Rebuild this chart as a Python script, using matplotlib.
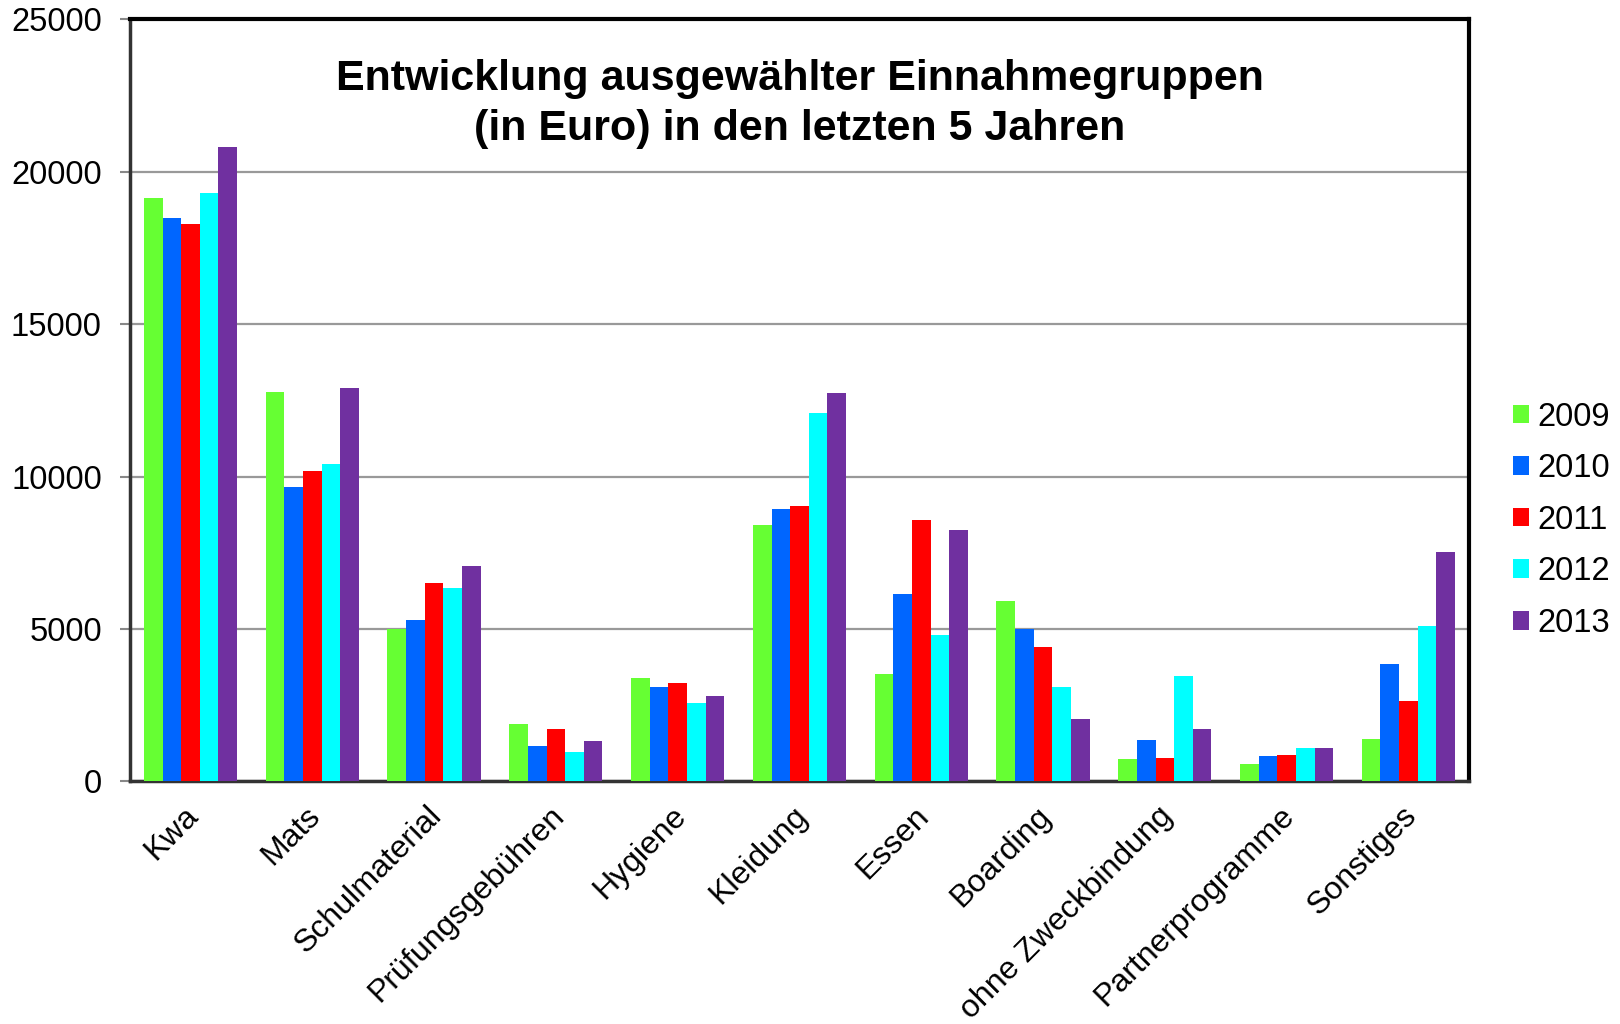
import matplotlib
matplotlib.use("Agg")
import matplotlib.pyplot as plt
import matplotlib.transforms as mtransforms
import numpy as np

categories = ["Kwa", "Mats", "Schulmaterial", "Prüfungsgebühren", "Hygiene", "Kleidung",
              "Essen", "Boarding", "ohne Zweckbindung", "Partnerprogramme", "Sonstiges"]
years = ["2009", "2010", "2011", "2012", "2013"]
v2009 = [19150, 12760, 4990, 1880, 3400, 8400, 3510, 5915, 720, 580, 1390]
v2010 = [18500, 9650, 5300, 1150, 3085, 8935, 6160, 4990, 1345, 845, 3850]
v2011 = [18280, 10190, 6505, 1730, 3215, 9020, 8585, 4405, 780, 875, 2625]
v2012 = [19290, 10410, 6355, 950, 2580, 12095, 4800, 3085, 3470, 1095, 5085]
v2013 = [20825, 12915, 7075, 1310, 2810, 12755, 8260, 2055, 1705, 1095, 7515]
series = [v2009, v2010, v2011, v2012, v2013]
colors = ["#66FF33", "#0066FF", "#FF0000", "#00FFFF", "#7030A0"]
yticks = [0, 5000, 10000, 15000, 20000, 25000]

plt.rcParams['font.family'] = ['Liberation Sans', 'DejaVu Sans']

fig = plt.figure(figsize=(16.2, 10.24), dpi=100)
ax = fig.add_axes([0.080, 0.237, 0.827, 0.744])

x = np.arange(len(categories))
w = 0.153
for i, (vals, c, yr) in enumerate(zip(series, colors, years)):
    ax.bar(x + (i - 2) * w, vals, width=w, color=c, label=yr, zorder=3)

ax.set_xlim(-0.5, len(categories) - 0.5)
ax.set_ylim(0, 25000)
ax.set_yticks(yticks)
ax.set_yticklabels([str(t) for t in yticks], fontsize=23.5)
ax.yaxis.grid(True, color="#999999", linewidth=1.6, zorder=0)
ax.set_axisbelow(True)
ax.tick_params(axis='y', length=7, width=1.5, color="#888888", pad=13)
ax.tick_params(axis='x', length=0, pad=14)
ax.set_xticks(x)
ax.set_xticklabels(categories, rotation=45, ha='right', va='top',
                   rotation_mode='anchor', fontsize=23)
offset = mtransforms.ScaledTranslation(-0.07, 0, fig.dpi_scale_trans)
for lbl in ax.get_xticklabels():
    lbl.set_transform(lbl.get_transform() + offset)

for s in ['top', 'right']:
    ax.spines[s].set_linewidth(3)
    ax.spines[s].set_color("black")
for s in ['left', 'bottom']:
    ax.spines[s].set_linewidth(2.5)
    ax.spines[s].set_color("#333333")

ax.text(0.5, 0.889, "Entwicklung ausgewählter Einnahmegruppen\n(in Euro) in den letzten 5 Jahren",
        transform=ax.transAxes, ha='center', va='center', fontsize=31, fontweight='bold',
        linespacing=1.3)

leg = fig.legend(loc='center left', bbox_to_anchor=(0.926, 0.492), frameon=False,
                 fontsize=23.5, handlelength=0.5, handleheight=0.5, handletextpad=0.25,
                 labelspacing=0.63, borderaxespad=0)

fig.savefig("out.png", dpi=100, facecolor="white")
